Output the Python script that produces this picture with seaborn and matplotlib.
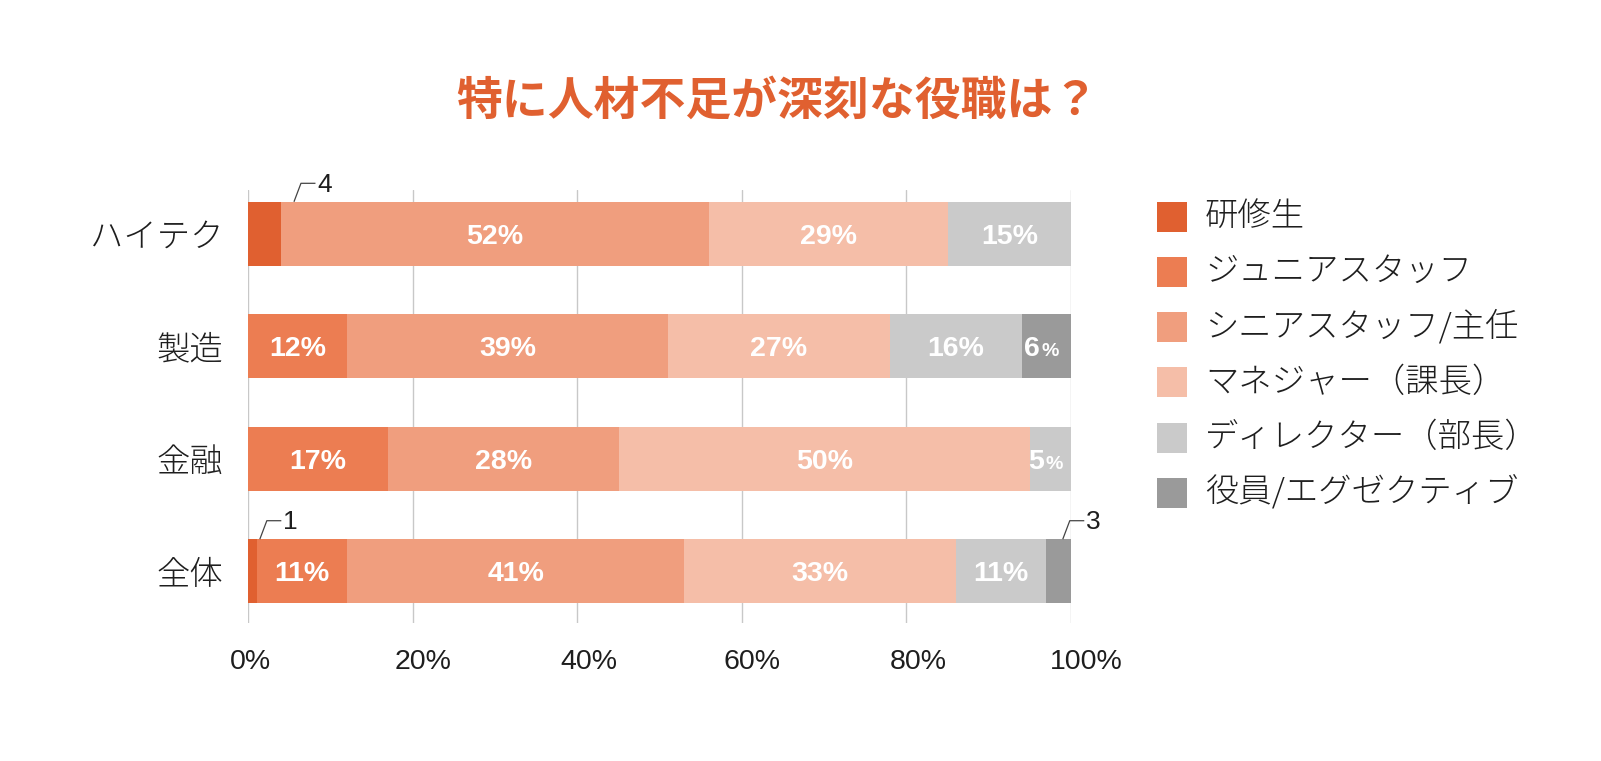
import matplotlib
matplotlib.use("Agg")
import numpy as np
import pandas as pd
import seaborn as sns
import matplotlib.pyplot as plt
from matplotlib.patches import Rectangle
from matplotlib.transforms import ScaledTranslation

# ---------------- data ----------------
categories = ["ハイテク", "製造", "金融", "全体"]
series = ["研修生", "ジュニアスタッフ", "シニアスタッフ/主任",
          "マネジャー（課長）", "ディレクター（部長）", "役員/エグゼクティブ"]
trainee = [4, 0, 0, 1]
junior = [0, 12, 17, 11]
senior = [52, 39, 28, 41]
manager = [29, 27, 50, 33]
director = [15, 16, 5, 11]
executive = [0, 6, 0, 3]
xticks = [0, 20, 40, 60, 80, 100]
xtick_labels = ["0%", "20%", "40%", "60%", "80%", "100%"]
title = "特に人材不足が深刻な役職は？"

# ---------------- style ----------------
colors = ["#E06030", "#EC7D52", "#F09E7E", "#F5BEA8", "#CACACA", "#9A9A9A"]
title_color = "#E06030"
text_color = "#1E1E1E"
JP = ["Noto Sans CJK JP", "DejaVu Sans"]
LAT = ["Liberation Sans", "Noto Sans CJK JP", "DejaVu Sans"]
xtick_shift_px = [2, 10, 11, 10, 12, 15]

sns.set_theme(style="white")
plt.rcParams["font.family"] = JP

W, H = 1601, 761
fig = plt.figure(figsize=(W / 100, H / 100), dpi=100)
x0, x1, ytop, ybot = 248.3, 1071.0, 190.0, 623.0
ax = fig.add_axes([x0 / W, 1 - ybot / H, (x1 - x0) / W, (ybot - ytop) / H])

values = np.array([trainee, junior, senior, manager, director, executive], dtype=float)
cum = values.cumsum(axis=0)

# stacked bars: draw cumulative totals from the largest down
for i in reversed(range(len(series))):
    df = pd.DataFrame({"cat": categories, "val": cum[i]})
    sns.barplot(data=df, x="val", y="cat", orient="h", color=colors[i],
                saturation=1, width=0.57, linewidth=0, ax=ax, zorder=3)

ax.set_xlim(0, 100)
ax.set_ylim(3.46, -0.39)
ax.set_xlabel("")
ax.set_ylabel("")
for s in ax.spines.values():
    s.set_visible(False)
ax.set_xticks(xticks)
ax.set_xticklabels(xtick_labels)
ax.xaxis.grid(True, color="#C8C8C8", linewidth=1.0, zorder=0)
ax.yaxis.grid(False)
ax.set_axisbelow(True)
ax.tick_params(axis="x", length=0, pad=19, labelsize=20.5, labelcolor=text_color)
ax.tick_params(axis="y", length=0, pad=18, labelsize=24, labelcolor=text_color)
for lab, dx in zip(ax.get_xticklabels(), xtick_shift_px):
    lab.set_family(LAT)
    lab.set_transform(lab.get_transform() + ScaledTranslation(dx / 100, 0, fig.dpi_scale_trans))
for lab in ax.get_yticklabels():
    lab.set_family(JP)
    lab.set_fontweight("light")

# leader-labelled small segments: (series index, category index) -> x offset from segment centre
leaders = {(0, 0): 3.55, (0, 3): 0.9, (5, 3): 0.5}
px_x = 100 / (x1 - x0)        # data units per pixel (x)
px_y = 3.85 / (ybot - ytop)   # data units per pixel (y)
bar_half = 0.57 / 2

for j in range(len(categories)):
    for i in range(len(series)):
        v = values[i, j]
        if v == 0:
            continue
        centre = cum[i, j] - v / 2
        if (i, j) in leaders:
            sx = centre + leaders[(i, j)]
            sy = j - bar_half
            mx, my = sx + 7 * px_x, sy - 18.5 * px_y
            ex = mx + 14.5 * px_x
            ax.plot([sx, mx, ex], [sy, my, my], color="#444444", linewidth=0.9,
                    clip_on=False, zorder=5, solid_capstyle="butt")
            ax.text(ex + 1.5 * px_x, my - 1 * px_y, f"{int(v)}", ha="left",
                    va="center_baseline", fontsize=19, color=text_color,
                    family=LAT, clip_on=False, zorder=5)
            continue
        if v < 10:
            ax.annotate(f"{int(v)}", (centre, j), xytext=(-4.6, -7.3), textcoords="offset points",
                        ha="right", va="baseline", color="white", fontsize=20.5,
                        fontweight="bold", family=LAT, zorder=5)
            ax.annotate("%", (centre, j), xytext=(-3.2, -7.3), textcoords="offset points",
                        ha="left", va="baseline", color="white", fontsize=14,
                        fontweight="bold", family=LAT, zorder=5)
        else:
            ax.text(centre, j, f"{int(v)}%", ha="center", va="center_baseline",
                    color="white", fontsize=20.5, fontweight="bold", family=LAT, zorder=5)

# title
fig.text(777 / W, 1 - 102 / H, title, ha="center", va="center", fontsize=33,
         fontweight="bold", color=title_color, family=JP)

# legend (manual)
for i, name in enumerate(series):
    cy = 216.7 + i * 55.2
    fig.add_artist(Rectangle((1156.7 / W, 1 - (cy + 15) / H), 30 / W, 30 / H,
                             transform=fig.transFigure, facecolor=colors[i],
                             edgecolor="none"))
    fig.text(1205 / W, 1 - cy / H, name, ha="left", va="center", fontsize=24,
             color=text_color, family=JP, fontweight="light")

fig.savefig("out.png", dpi=100, facecolor="white")
